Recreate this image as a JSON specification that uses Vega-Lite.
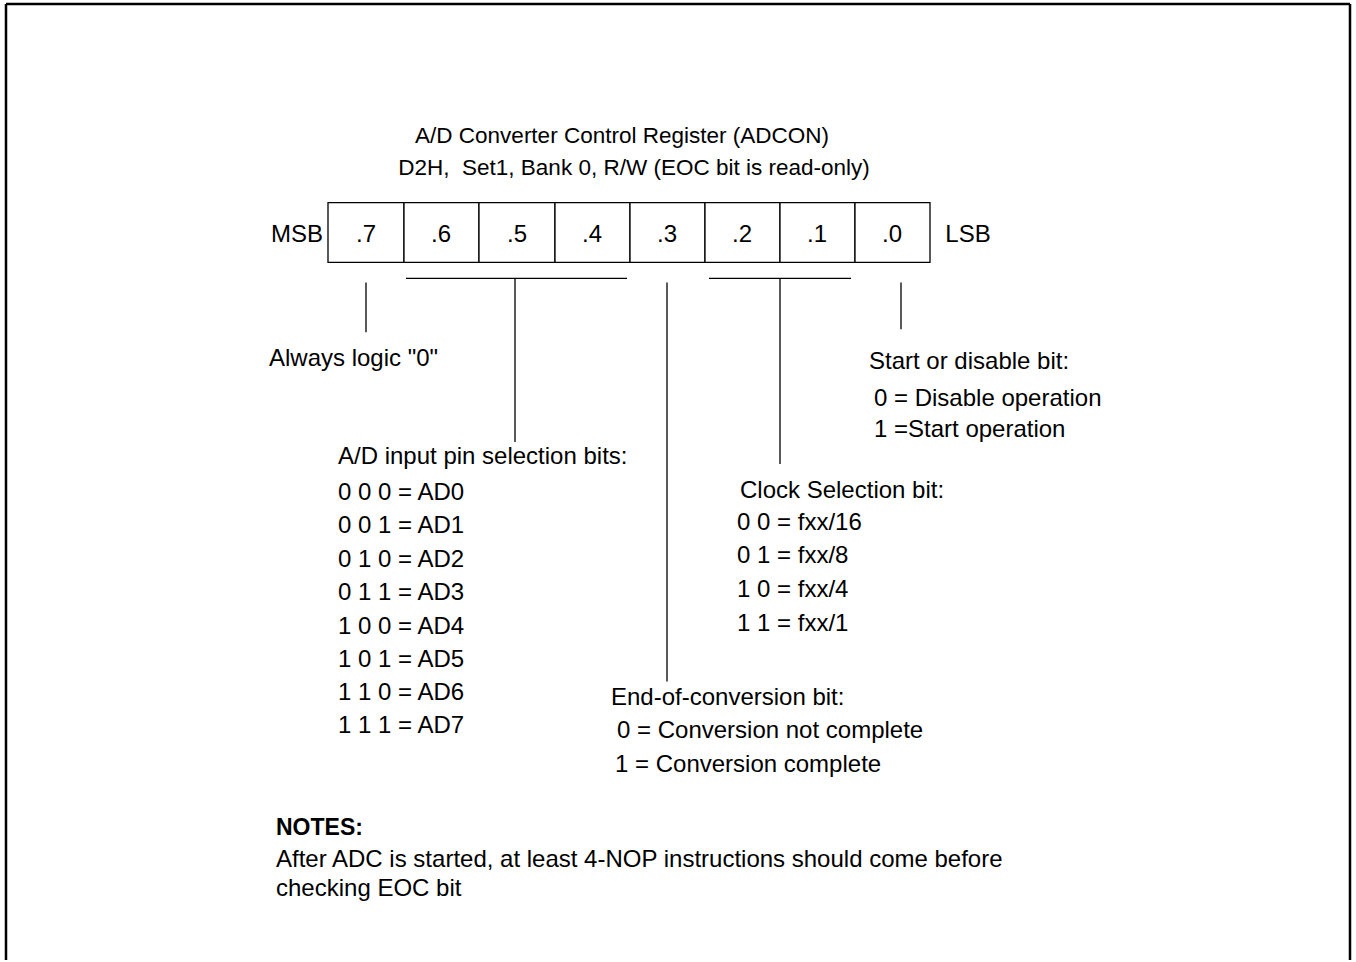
{
  "$schema": "https://vega.github.io/schema/vega-lite/v6.json",
  "width": 1356,
  "height": 962,
  "padding": 0,
  "autosize": {"type": "fit", "contains": "padding"},
  "background": "white",
  "config": {"view": {"stroke": null}},
  "datasets": {
    "cells": [
      {"bit": ".7", "x1": 328, "x2": 404, "y1": 203, "y2": 263},
      {"bit": ".6", "x1": 404, "x2": 479, "y1": 203, "y2": 263},
      {"bit": ".5", "x1": 479, "x2": 555, "y1": 203, "y2": 263},
      {"bit": ".4", "x1": 555, "x2": 630, "y1": 203, "y2": 263},
      {"bit": ".3", "x1": 630, "x2": 705, "y1": 203, "y2": 263},
      {"bit": ".2", "x1": 705, "x2": 780, "y1": 203, "y2": 263},
      {"bit": ".1", "x1": 780, "x2": 855, "y1": 203, "y2": 263},
      {"bit": ".0", "x1": 855, "x2": 930, "y1": 203, "y2": 263}
    ],
    "lines": [
      {"x1": 406, "x2": 627, "y1": 279, "y2": 279},
      {"x1": 709, "x2": 851, "y1": 279, "y2": 279},
      {"x1": 366, "x2": 366, "y1": 283, "y2": 333},
      {"x1": 515, "x2": 515, "y1": 279, "y2": 443},
      {"x1": 667, "x2": 667, "y1": 283, "y2": 683},
      {"x1": 780, "x2": 780, "y1": 279, "y2": 465},
      {"x1": 901, "x2": 901, "y1": 283, "y2": 330}
    ],
    "frame": [
      {"x1": 6, "x2": 6, "y1": 4, "y2": 962},
      {"x1": 6, "x2": 1350, "y1": 4, "y2": 4},
      {"x1": 1350, "x2": 1350, "y1": 4, "y2": 962}
    ],
    "title": [
      {"label": "A/D Converter Control Register (ADCON)", "x": 622, "y": 143},
      {"label": "D2H,\u00a0 Set1, Bank 0, R/W (EOC bit is read-only)", "x": 634, "y": 175}
    ],
    "center": [
      {"label": "MSB", "x": 297, "y": 243},
      {"label": ".7", "x": 366, "y": 243},
      {"label": ".6", "x": 441, "y": 243},
      {"label": ".5", "x": 517, "y": 243},
      {"label": ".4", "x": 592, "y": 243},
      {"label": ".3", "x": 667, "y": 243},
      {"label": ".2", "x": 742, "y": 243},
      {"label": ".1", "x": 817, "y": 243},
      {"label": ".0", "x": 892, "y": 243},
      {"label": "LSB", "x": 968, "y": 243}
    ],
    "left": [
      {"label": "Always logic \"0\"", "x": 269, "y": 367},
      {"label": "Start or disable bit:", "x": 869, "y": 370},
      {"label": "0 = Disable operation", "x": 874, "y": 407},
      {"label": "1 =Start operation", "x": 874, "y": 438},
      {"label": "A/D input pin selection bits:", "x": 338, "y": 465},
      {"label": "0 0 0 = AD0", "x": 338, "y": 501},
      {"label": "0 0 1 = AD1", "x": 338, "y": 534},
      {"label": "0 1 0 = AD2", "x": 338, "y": 568},
      {"label": "0 1 1 = AD3", "x": 338, "y": 601},
      {"label": "1 0 0 = AD4", "x": 338, "y": 635},
      {"label": "1 0 1 = AD5", "x": 338, "y": 668},
      {"label": "1 1 0 = AD6", "x": 338, "y": 701},
      {"label": "1 1 1 = AD7", "x": 338, "y": 735},
      {"label": "Clock Selection bit:", "x": 740, "y": 499},
      {"label": "0 0 = fxx/16", "x": 737, "y": 531},
      {"label": "0 1 = fxx/8", "x": 737, "y": 564},
      {"label": "1 0 = fxx/4", "x": 737, "y": 598},
      {"label": "1 1 = fxx/1", "x": 737, "y": 632},
      {"label": "End-of-conversion bit:", "x": 611, "y": 706},
      {"label": "0 = Conversion not complete", "x": 617, "y": 740},
      {"label": "1 = Conversion complete", "x": 615, "y": 774},
      {"label": "After ADC is started, at least 4-NOP instructions should come before", "x": 276, "y": 869},
      {"label": "checking EOC bit", "x": 276, "y": 898}
    ],
    "bold": [
      {"label": "NOTES:", "x": 276, "y": 837}
    ]
  },
  "layer": [
    {
      "data": {"name": "frame"},
      "mark": {"type": "rule", "color": "black", "strokeWidth": 2.5},
      "encoding": {
        "x": {"field": "x1", "type": "quantitative", "scale": {"domain": [0, 1356], "nice": false, "zero": false}, "axis": null},
        "x2": {"field": "x2"},
        "y": {"field": "y1", "type": "quantitative", "scale": {"domain": [0, 962], "nice": false, "zero": false, "reverse": true}, "axis": null},
        "y2": {"field": "y2"}
      }
    },
    {
      "data": {"name": "cells"},
      "mark": {"type": "rect", "fill": "white", "stroke": "black", "strokeWidth": 1.3},
      "encoding": {
        "x": {"field": "x1", "type": "quantitative"},
        "x2": {"field": "x2"},
        "y": {"field": "y1", "type": "quantitative"},
        "y2": {"field": "y2"}
      }
    },
    {
      "data": {"name": "lines"},
      "mark": {"type": "rule", "color": "black", "strokeWidth": 1.3},
      "encoding": {
        "x": {"field": "x1", "type": "quantitative"},
        "x2": {"field": "x2"},
        "y": {"field": "y1", "type": "quantitative"},
        "y2": {"field": "y2"}
      }
    },
    {
      "data": {"name": "title"},
      "mark": {"type": "text", "align": "center", "baseline": "alphabetic", "font": "Liberation Sans", "fontSize": 22.5, "color": "black"},
      "encoding": {
        "x": {"field": "x", "type": "quantitative"},
        "y": {"field": "y", "type": "quantitative"},
        "text": {"field": "label"}
      }
    },
    {
      "data": {"name": "center"},
      "mark": {"type": "text", "align": "center", "baseline": "alphabetic", "font": "Liberation Sans", "fontSize": 24, "color": "black"},
      "encoding": {
        "x": {"field": "x", "type": "quantitative"},
        "y": {"field": "y", "type": "quantitative"},
        "text": {"field": "label"}
      }
    },
    {
      "data": {"name": "left"},
      "mark": {"type": "text", "align": "left", "baseline": "alphabetic", "font": "Liberation Sans", "fontSize": 24, "color": "black"},
      "encoding": {
        "x": {"field": "x", "type": "quantitative"},
        "y": {"field": "y", "type": "quantitative"},
        "text": {"field": "label"}
      }
    },
    {
      "data": {"name": "bold"},
      "mark": {"type": "text", "align": "left", "baseline": "alphabetic", "font": "Liberation Sans", "fontSize": 23, "fontWeight": "bold", "color": "black"},
      "encoding": {
        "x": {"field": "x", "type": "quantitative"},
        "y": {"field": "y", "type": "quantitative"},
        "text": {"field": "label"}
      }
    }
  ]
}
